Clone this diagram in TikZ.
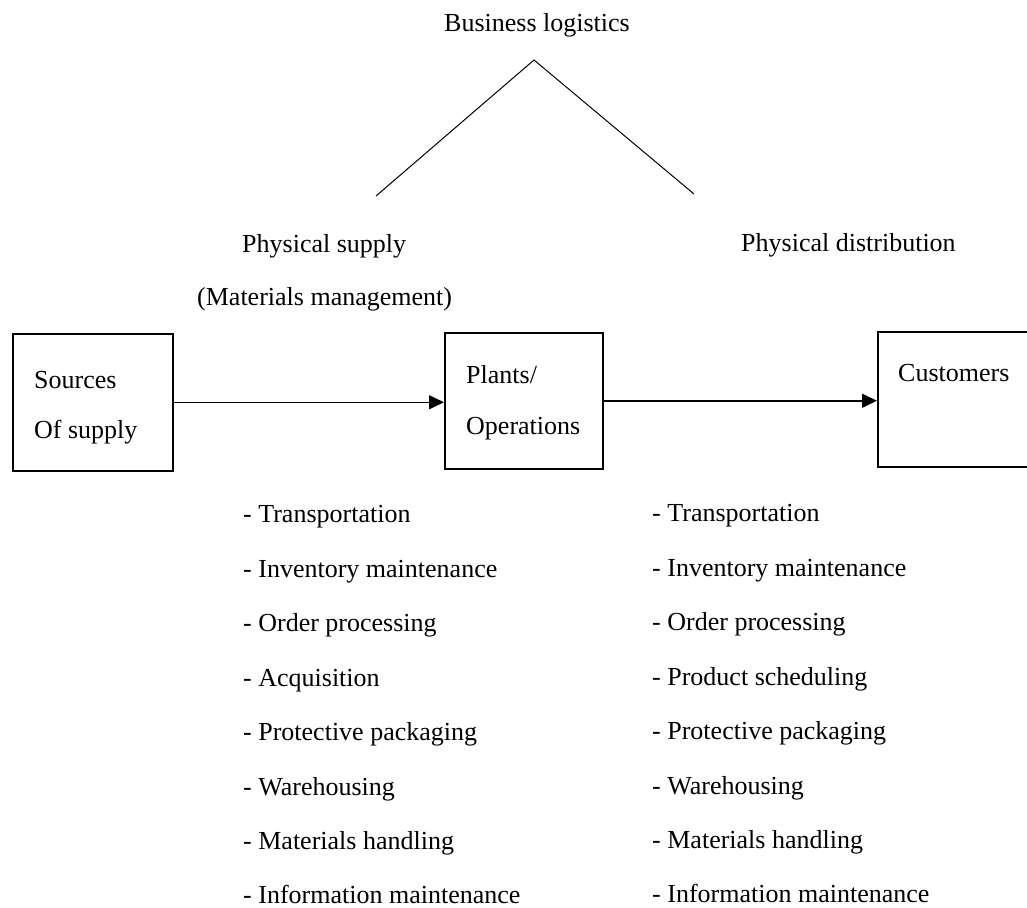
\documentclass[tikz,border=0pt]{standalone}
\usepackage{fontspec}
\setmainfont{Liberation Serif}
\usetikzlibrary{arrows.meta}
\begin{document}
\begin{tikzpicture}[
    x=1pt, y=-1pt,
    box/.style={rectangle, draw=black, line width=1.5pt, anchor=north west, inner sep=0pt},
    txt/.style={anchor=base west, inner sep=0pt, font=\fontsize{26}{32}\selectfont},
    flow/.style={-{Triangle[length=15pt,width=14pt]}, line width=1.5pt}
  ]
  \useasboundingbox (0,0) rectangle (1027,907);
  \clip (0,0) rectangle (1027,907);

  %Nodes
  \node[box, minimum width=160pt, minimum height=137pt] at (12,333) (src) {};
  \node[box, minimum width=158pt, minimum height=136pt] at (444,332) (plant) {};
  \node[box, minimum width=170pt, minimum height=135pt] at (877,331) (cust) {};

  \node[txt] at (34,388) (src1) {Sources};
  \node[txt] at (34,438) (src2) {Of supply};
  \node[txt] at (466,383) (plant1) {Plants/};
  \node[txt] at (466,434) (plant2) {Operations};
  \node[txt] at (898,381) (cust1) {Customers};

  \node[txt, anchor=base] at (537,32) (bl) {Business logistics};
  \node[txt] at (242,252) (ps) {Physical supply};
  \node[txt] at (197,305) (mm) {(Materials management)};
  \node[txt] at (741,251) (pd) {Physical distribution};

  \coordinate (apex) at (534,60);
  \coordinate (supl) at (376,196);
  \coordinate (dist) at (694,194);

  %Lines
  \draw[line width=1pt] (supl) -- (apex) -- (dist);
  \draw[flow] (src.east) -- (src.east -| plant.west);
  \draw[flow] (plant.east) -- (plant.east -| cust.west);

  %Activities
  \node[txt] at (243,522) (l1) {- Transportation};
  \node[txt] at (243,577) (l2) {- Inventory maintenance};
  \node[txt] at (243,631) (l3) {- Order processing};
  \node[txt] at (243,686) (l4) {- Acquisition};
  \node[txt] at (243,740) (l5) {- Protective packaging};
  \node[txt] at (243,795) (l6) {- Warehousing};
  \node[txt] at (243,849) (l7) {- Materials handling};
  \node[txt] at (243,903) (l8) {- Information maintenance};

  \node[txt] at (652,521) (r1) {- Transportation};
  \node[txt] at (652,576) (r2) {- Inventory maintenance};
  \node[txt] at (652,630) (r3) {- Order processing};
  \node[txt] at (652,685) (r4) {- Product scheduling};
  \node[txt] at (652,739) (r5) {- Protective packaging};
  \node[txt] at (652,794) (r6) {- Warehousing};
  \node[txt] at (652,848) (r7) {- Materials handling};
  \node[txt] at (652,902) (r8) {- Information maintenance};

\end{tikzpicture}
\end{document}
